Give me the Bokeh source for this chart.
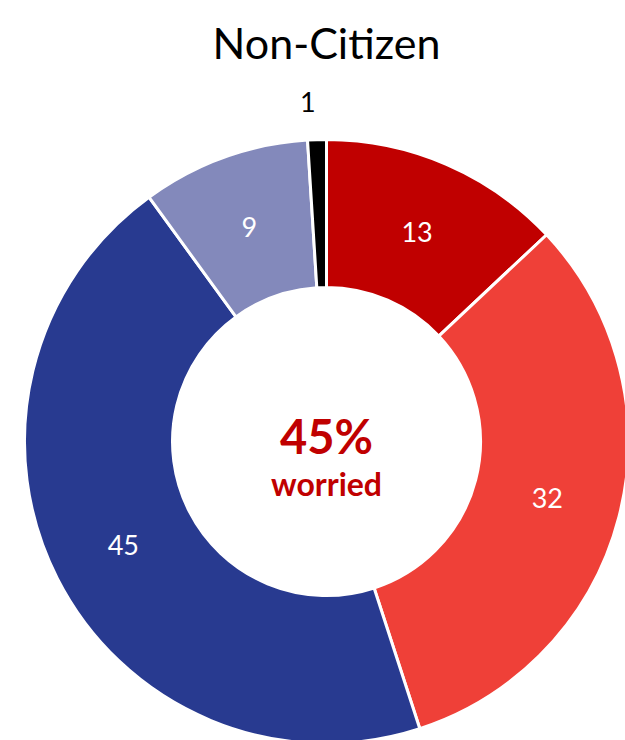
import math
from bokeh.plotting import figure
from bokeh.models import Range1d, ColumnDataSource
from bokeh.core.properties import value
from bokeh.embed import file_html
from bokeh.resources import INLINE

title = "Non-Citizen"
categories = ["Very worried", "Somewhat worried", "Not too worried", "Not at all worried", "No answer"]
values = [13, 32, 45, 9, 1]
colors = ["#C00000", "#EF4038", "#283A90", "#8389BB", "#000000"]
label_colors = ["white", "white", "white", "white", "black"]
center_big = "45%"
center_small = "worried"

W, H = 625, 740
cx, cy = 326, H - 441
r_out, r_in = 302, 154

total = sum(values)
starts, ends, lx, ly = [], [], [], []
cum = 0
for i, v in enumerate(values):
    a0 = math.pi / 2 - 2 * math.pi * cum / total
    cum += v
    a1 = math.pi / 2 - 2 * math.pi * cum / total
    starts.append(a0)
    ends.append(a1)
    mid = (a0 + a1) / 2
    if v >= 5:
        lx.append(cx + (r_in + r_out) / 2 * math.cos(mid))
        ly.append(cy + (r_in + r_out) / 2 * math.sin(mid))
    else:
        lx.append(cx + (r_out + 38) * math.cos(mid) - 8)
        ly.append(cy + (r_out + 38) * math.sin(mid))

src = ColumnDataSource(dict(start=starts, end=ends, color=colors,
                            lx=lx, ly=ly, lab=[str(v) for v in values], lc=label_colors))

p = figure(width=W, height=H, output_backend="svg", toolbar_location=None,
           x_axis_type=None, y_axis_type=None,
           x_range=Range1d(0, W), y_range=Range1d(0, H), min_border=0)
p.grid.visible = False
p.outline_line_color = None
p.background_fill_color = "white"

p.annular_wedge(x=cx, y=cy, inner_radius=r_in, outer_radius=r_out,
                start_angle="start", end_angle="end", direction="clock",
                fill_color="color", line_color="white", line_width=3, source=src)

p.text(x="lx", y="ly", text="lab", text_color="lc", source=src,
       text_font=value("Lato"), text_font_size="27px",
       text_align="center", text_baseline="middle")

p.text(x=[cx], y=[H - 42], text=[title], text_font=value("Lato"),
       text_font_size="43px", text_color="black",
       text_align="center", text_baseline="alphabetic")
p.text(x=[cx], y=[H - 435], text=[center_big], text_font=value("Lato"),
       text_font_size="47px", text_font_style="bold", text_color="#C00000",
       text_align="center", text_baseline="alphabetic")
p.text(x=[cx], y=[H - 483], text=[center_small], text_font=value("Lato"),
       text_font_size="32px", text_font_style="bold", text_color="#C00000",
       text_align="center", text_baseline="alphabetic")

open("out.html", "w").write(file_html(p, INLINE))
